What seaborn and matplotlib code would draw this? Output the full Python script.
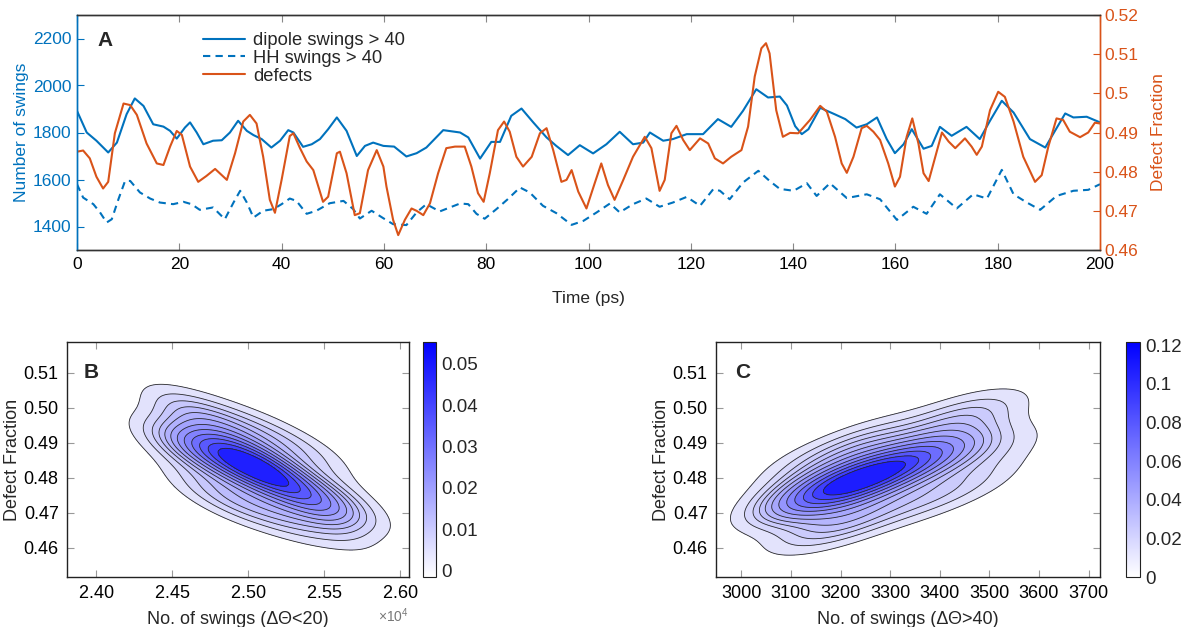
import numpy as np
import matplotlib
matplotlib.use("Agg")
import matplotlib.pyplot as plt
import seaborn as sns
from matplotlib.colors import LinearSegmentedColormap, Normalize
from matplotlib.ticker import ScalarFormatter, FixedLocator, FixedFormatter
import matplotlib.cm as cm

# ---------------- data ----------------
dipole_t = [0, 1.9, 3.8, 6.1, 7.8, 9.7, 11.3, 13.0, 14.9, 16.9, 18.2, 19.5, 21.1, 22.1, 23.4, 24.7,
            26.6, 28.3, 29.9, 31.5, 33.2, 34.5, 36.1, 38.0, 39.7, 41.3, 42.3, 44.2, 45.9, 47.5, 49.1,
            50.8, 52.7, 54.7, 56.3, 57.9, 59.9, 62.0, 64.4, 66.4, 68.3, 71.6, 74.9, 76.5, 78.8, 81.0,
            82.7, 84.9, 86.9, 89.2, 91.8, 93.7, 96.0, 98.3, 100.9, 103.5, 106.1, 108.7, 110.7, 112.0,
            114.6, 116.5, 119.2, 122.4, 125.3, 127.9, 130.2, 132.8, 135.1, 137.4, 138.8, 140.4, 141.7,
            143.0, 145.3, 148.2, 150.2, 152.4, 154.4, 156.4, 158.3, 159.9, 161.6, 163.2, 165.5, 167.1,
            168.7, 171.0, 173.9, 176.5, 178.5, 180.8, 183.1, 186.3, 189.3, 191.2, 193.2, 194.8, 197.4, 200]
dipole_n = [1892, 1800, 1765, 1715, 1757, 1878, 1945, 1913, 1835, 1825, 1807, 1774, 1821, 1843, 1800, 1750,
            1765, 1767, 1800, 1850, 1807, 1789, 1772, 1736, 1765, 1810, 1800, 1739, 1750, 1772, 1814,
            1864, 1807, 1700, 1743, 1757, 1743, 1740, 1698, 1712, 1736, 1810, 1800, 1779, 1689, 1760,
            1760, 1871, 1902, 1843, 1779, 1743, 1704, 1746, 1711, 1750, 1803, 1750, 1757, 1800,
            1765, 1772, 1793, 1793, 1857, 1824, 1892, 1984, 1949, 1953, 1915, 1827, 1793,
            1814, 1905, 1877, 1857, 1821, 1835, 1864, 1772, 1712, 1750, 1814, 1731, 1743,
            1824, 1786, 1824, 1772, 1850, 1935, 1885, 1772, 1736, 1807, 1881, 1864, 1867, 1843]

hh_t = [0, 1.2, 3.2, 4.5, 5.8, 6.8, 8.1, 9.4, 10.4, 12.3, 14.3, 16.2, 18.8, 20.8, 22.4, 24.0, 26.6,
        28.9, 30.6, 31.9, 33.2, 34.5, 36.4, 38.4, 40.0, 41.6, 42.9, 44.9, 46.8, 49.4, 52.1, 54.0, 55.3,
        57.6, 59.9, 61.8, 64.4, 66.4, 68.3, 70.9, 74.9, 76.5, 78.1, 79.7, 82.0, 84.2, 86.6, 88.5, 91.1,
        93.7, 96.7, 99.0, 101.6, 104.2, 106.1, 108.7, 111.3, 113.9, 116.5, 119.2, 121.8, 124.4, 125.7,
        127.6, 130.2, 133.2, 135.4, 137.4, 140.1, 142.7, 144.6, 147.2, 150.5, 154.4, 157.0, 160.3,
        163.5, 166.1, 168.7, 172.0, 175.2, 177.9, 180.8, 183.1, 185.7, 188.3, 191.5, 194.8, 197.7, 200]
hh_n = [1580, 1523, 1495, 1460, 1417, 1431, 1516, 1594, 1594, 1545, 1519, 1502, 1495, 1505, 1495, 1471, 1481,
        1431, 1502, 1552, 1502, 1438, 1467, 1474, 1495, 1519, 1509, 1454, 1467, 1499, 1509, 1474, 1434,
        1467, 1435, 1410, 1406, 1460, 1495, 1464, 1498, 1495, 1454, 1433, 1474, 1516, 1566, 1545, 1488,
        1457, 1407, 1424, 1460, 1498, 1460, 1495, 1519, 1484, 1502, 1526, 1488, 1559, 1552,
        1516, 1587, 1637, 1594, 1560, 1552, 1584, 1530, 1584, 1521, 1537, 1516, 1428,
        1484, 1454, 1537, 1477, 1537, 1519, 1641, 1537, 1502, 1471, 1530, 1552, 1556, 1580]

defect_t = [0, 1.2, 2.5, 3.8, 5.1, 6.1, 7.4, 9.1, 10.4, 11.7, 13.6, 15.6, 16.9, 18.2, 19.5, 20.5, 22.1,
            23.7, 25.3, 27.0, 28.3, 29.3, 30.9, 32.5, 33.8, 35.1, 36.4, 37.7, 38.7, 40.0, 41.6, 42.3,
            43.6, 44.9, 46.2, 48.1, 49.1, 50.8, 51.4, 52.7, 54.3, 55.3, 56.9, 58.6, 59.9, 60.5, 61.8,
            62.8, 64.1, 65.4, 66.4, 67.7, 69.0, 70.6, 72.2, 73.9, 75.8, 77.1, 78.4, 79.5, 80.7, 82.3,
            83.5, 84.6, 85.9, 87.2, 88.9, 90.5, 91.8, 93.1, 94.7, 95.7, 96.7, 98.0, 99.6, 101.2, 102.5,
            103.8, 105.1, 106.8, 108.7, 111.0, 112.3, 113.9, 114.9, 116.2, 117.2, 118.5, 119.8, 121.8,
            123.4, 124.7, 126.3, 127.9, 129.9, 131.2, 132.5, 133.8, 134.7, 135.4, 136.7, 138.0, 139.4,
            141.0, 143.3, 145.3, 146.6, 148.2, 149.5, 150.5, 151.8, 153.4, 154.4, 155.7, 157.0, 158.6,
            159.9, 160.9, 162.2, 163.3, 164.5, 165.5, 166.5, 167.8, 169.1, 170.4, 171.7, 173.6, 174.9,
            175.9, 176.9, 178.5, 180.1, 181.4, 183.1, 185.0, 187.3, 188.6, 189.9, 191.5, 192.8, 194.1,
            196.1, 197.7, 199.0, 200]
defect_f = [0.4851, 0.4854, 0.4834, 0.4787, 0.4757, 0.4774, 0.4898, 0.4974, 0.4970, 0.4945, 0.4872, 0.4821,
            0.4817, 0.4864, 0.4904, 0.4894, 0.4813, 0.4774, 0.4789, 0.4807, 0.4791, 0.4779, 0.4847, 0.4928,
            0.4945, 0.4923, 0.4838, 0.4728, 0.4695, 0.4779, 0.4891, 0.4898, 0.4860, 0.4826, 0.4804, 0.4723,
            0.4736, 0.4847, 0.4851, 0.4796, 0.4689, 0.4694, 0.4804, 0.4855, 0.4813, 0.4762, 0.4677, 0.4638,
            0.4677, 0.4706, 0.4700, 0.4689, 0.4719, 0.4796, 0.4860, 0.4864, 0.4864, 0.4813, 0.4745, 0.4723,
            0.4796, 0.4906, 0.4928, 0.4902, 0.4838, 0.4813, 0.4838, 0.4898, 0.4911, 0.4855, 0.4774, 0.4779,
            0.4804, 0.4749, 0.4706, 0.4770, 0.4821, 0.4766, 0.4728, 0.4779, 0.4838, 0.4889, 0.4860, 0.4751,
            0.4779, 0.4898, 0.4917, 0.4881, 0.4855, 0.4885, 0.4872, 0.4834, 0.4821, 0.4838, 0.4855, 0.4915,
            0.5043, 0.5115, 0.5128, 0.5102, 0.4957, 0.4889, 0.4899, 0.4898, 0.4932, 0.4968, 0.4953, 0.4889,
            0.4821, 0.4797, 0.4838, 0.4911, 0.4917, 0.4902, 0.4881, 0.4821, 0.4762, 0.4787, 0.4889, 0.4936,
            0.4872, 0.4796, 0.4776, 0.4838, 0.4900, 0.4877, 0.4860, 0.4885, 0.4864, 0.4843, 0.4864, 0.4957,
            0.5004, 0.4991, 0.4928, 0.4838, 0.4774, 0.4791, 0.4864, 0.4936, 0.4932, 0.4902, 0.4888, 0.4900,
            0.4925, 0.4923]

# estimated (weighted) observations behind the density panels
b_swings = [24950, 25150, 25450, 24700, 24580, 24850, 25150, 25450, 24680, 24950, 25250, 25550,
            24460, 25700]
b_defect = [0.4850, 0.4810, 0.4740, 0.4880, 0.4990, 0.4960, 0.4920, 0.4860, 0.4770, 0.4730, 0.4690,
            0.4660, 0.4900, 0.4720]
b_weight = [4.0, 4.0, 2.5, 2.5, 1.2, 1.2, 1.0, 0.8, 0.8, 1.2, 1.2, 0.8, 0.8, 0.8]

c_swings = [3230, 3320, 3150, 3420, 3130, 3250, 3420, 3500, 3140, 3230, 3370, 3480, 3090, 3540]
c_defect = [0.4790, 0.4835, 0.4750, 0.4875, 0.4840, 0.4900, 0.4970, 0.4990, 0.4645, 0.4680, 0.4740,
            0.4790, 0.4740, 0.4890]
c_weight = [4.5, 3.5, 2.5, 1.8, 0.8, 1.2, 1.0, 0.6, 0.8, 1.2, 1.0, 0.6, 0.7, 0.5]

# ticks / labels
a_xticks = [0, 20, 40, 60, 80, 100, 120, 140, 160, 180, 200]
a_lticks = [1400, 1600, 1800, 2000, 2200]
a_rticks = [0.46, 0.47, 0.48, 0.49, 0.50, 0.51, 0.52]
a_rlabels = ["0.46", "0.47", "0.48", "0.49", "0.5", "0.51", "0.52"]
bc_yticks = [0.46, 0.47, 0.48, 0.49, 0.50, 0.51]
b_xticks = [24000, 24500, 25000, 25500, 26000]
c_xticks = [3000, 3100, 3200, 3300, 3400, 3500, 3600, 3700]
b_cbticks = [0, 0.01, 0.02, 0.03, 0.04, 0.05]
b_cblabels = ["0", "0.01", "0.02", "0.03", "0.04", "0.05"]
c_cbticks = [0, 0.02, 0.04, 0.06, 0.08, 0.10, 0.12]
c_cblabels = ["0", "0.02", "0.04", "0.06", "0.08", "0.1", "0.12"]

# ---------------- style ----------------
sns.set_theme(style="ticks")
plt.rcParams["font.family"] = ["Liberation Sans", "DejaVu Sans"]
plt.rcParams["mathtext.fontset"] = "custom"
plt.rcParams["mathtext.rm"] = "Liberation Sans"

BLUE = "#0072BD"
ORANGE = "#D95319"
W, H = 1186, 627

fig = plt.figure(figsize=(W / 100, H / 100), dpi=100)


def rect(l, t, r, b):
    return [l / W, 1 - b / H, (r - l) / W, (b - t) / H]


# ---------------- panel A ----------------
axA = fig.add_axes(rect(77, 15, 1100, 250))
axA2 = axA.twinx()
sns.lineplot(x=dipole_t, y=dipole_n, ax=axA, color=BLUE, lw=1.5, legend=False)
sns.lineplot(x=hh_t, y=hh_n, ax=axA, color=BLUE, lw=1.5, linestyle=(0, (3.5, 2.5)), legend=False)
sns.lineplot(x=defect_t, y=defect_f, ax=axA2, color=ORANGE, lw=1.5, legend=False)

axA.set_xlim(0, 200)
axA.set_ylim(1300, 2300)
axA2.set_ylim(0.46, 0.52)
axA.set_xticks(a_xticks)
axA.set_yticks(a_lticks)
axA2.yaxis.set_major_locator(FixedLocator(a_rticks))
axA2.yaxis.set_major_formatter(FixedFormatter(a_rlabels))

axA.tick_params(axis="x", direction="in", top=True, length=5, width=0.8, color="#888888",
                labelsize=12.5, labelcolor="black", pad=5)
axA.tick_params(axis="y", direction="in", length=5, width=0.8, color=BLUE, labelcolor=BLUE,
                labelsize=12.5, pad=4)
axA2.tick_params(axis="y", direction="in", length=5, width=0.8, color=ORANGE, labelcolor=ORANGE,
                 labelsize=12.5, pad=3)
for ax in (axA, axA2):
    ax.spines["left"].set_color(BLUE)
    ax.spines["right"].set_color(ORANGE)
    ax.spines["top"].set_color("#333333")
    ax.spines["bottom"].set_color("#333333")
    for s in ax.spines.values():
        s.set_linewidth(1.0)
axA.set_xlabel("Time (ps)", fontsize=12.5, labelpad=14)
axA.set_ylabel("Number of swings", fontsize=12.5, color=BLUE, labelpad=3)
axA2.set_ylabel("Defect Fraction", fontsize=12.5, color=ORANGE, labelpad=9)

handles = axA.get_lines()[:2] + axA2.get_lines()[:1]
labels = ["dipole swings > 40", "HH swings > 40", "defects"]
axA2.legend(handles, labels, loc="upper left", bbox_to_anchor=(203 / W, 1 - 32 / H),
            bbox_transform=fig.transFigure, frameon=False, fontsize=13.2, handlelength=2.3,
            handletextpad=0.45, labelspacing=0.05, borderpad=0, borderaxespad=0)
fig.text(97 / W, 1 - 40 / H, "A", fontsize=15, fontweight="bold", va="center", ha="left")

# ---------------- density panels ----------------
fill_cmap = LinearSegmentedColormap.from_list("fillblue", ["#e9e9fc", "#0808ff"])
bar_cmap = LinearSegmentedColormap.from_list("barblue", ["#ffffff", "#0000ff"])
kde_levels = list(np.linspace(0.07, 0.87, 12)) + [1.0]


def density_panel(box, cbox, xs, ys, ws, xticks, letter, xlabel, xlim, cb_lim, cb_ticks, cb_labels, bw):
    ax = fig.add_axes(rect(*box))
    sns.kdeplot(x=xs, y=ys, weights=ws, fill=True, levels=kde_levels, cmap=fill_cmap, ax=ax,
                bw_adjust=bw, gridsize=200, cut=4)
    sns.kdeplot(x=xs, y=ys, weights=ws, fill=False, levels=kde_levels, color="#2a2a2a", ax=ax,
                linewidths=0.6, bw_adjust=bw, gridsize=200, cut=4)
    ax.set_xlim(*xlim)
    ax.set_ylim(0.4516, 0.5188)
    ax.set_xticks(xticks)
    ax.set_yticks(bc_yticks)
    ax.yaxis.set_major_formatter(FixedFormatter(["%.2f" % v for v in bc_yticks]))
    ax.tick_params(direction="in", top=True, right=True, length=5, width=0.8, color="#999999",
                   labelsize=13, labelcolor="black", pad=6)
    for s in ax.spines.values():
        s.set_color("#222222")
        s.set_linewidth(1.0)
    ax.set_xlabel(xlabel, fontsize=13, labelpad=6)
    ax.set_ylabel("Defect Fraction", fontsize=13, labelpad=2)
    ax.text(0.05, 0.87, letter, transform=ax.transAxes, fontsize=15, fontweight="bold",
            va="center", ha="left")
    cax = fig.add_axes(rect(*cbox))
    sm = cm.ScalarMappable(norm=Normalize(*cb_lim), cmap=bar_cmap)
    cb = fig.colorbar(sm, cax=cax)
    cb.set_ticks(cb_ticks)
    cb.set_ticklabels(cb_labels)
    cb.outline.set_linewidth(0.8)
    cb.outline.set_edgecolor("#222222")
    cax.tick_params(direction="in", length=3, width=0.6, color="#999999", labelsize=13.5, pad=4)
    return ax


axB = density_panel((67, 342, 409, 577), (423, 342, 436, 577), b_swings, b_defect, b_weight,
                    b_xticks, "B", "No. of swings (\u0394\u0398<20)", (23810, 26060),
                    (-0.0016, 0.0553), b_cbticks, b_cblabels, 0.95)
fmt = ScalarFormatter(useMathText=True)
fmt.set_powerlimits((-3, 3))
axB.xaxis.set_major_formatter(fmt)
axB.xaxis.get_offset_text().set_fontsize(10)
axB.xaxis.get_offset_text().set_color("#777777")

axC = density_panel((716, 342, 1100, 577), (1126, 342, 1140, 577), c_swings, c_defect, c_weight,
                    c_xticks, "C", "No. of swings (\u0394\u0398>40)", (2949, 3723),
                    (0.0, 0.1217), c_cbticks, c_cblabels, 0.95)

fig.savefig("out.png", dpi=100)
